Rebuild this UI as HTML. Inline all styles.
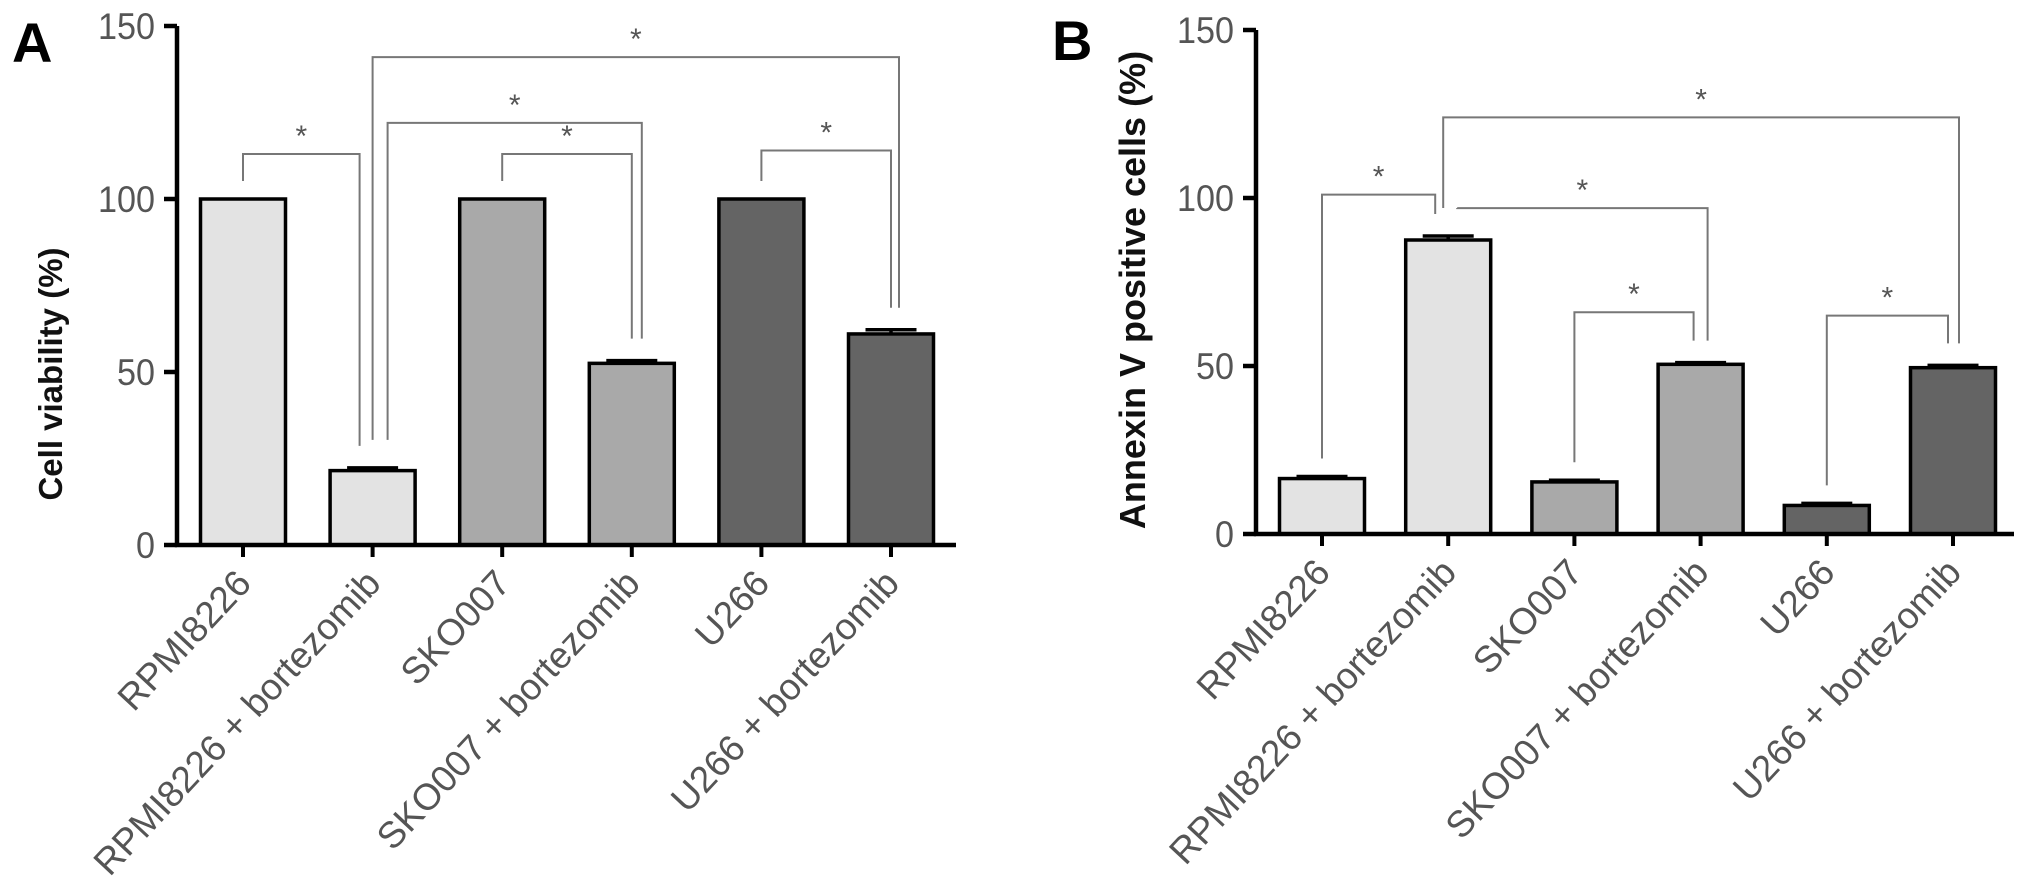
<!DOCTYPE html>
<html><head><meta charset="utf-8"><style>
html,body{margin:0;padding:0;background:#fff;}
svg{display:block;font-family:"Liberation Sans",Arial,sans-serif;}
</style></head><body>
<svg id="c" width="2031" height="892" viewBox="0 0 2031 892" xmlns="http://www.w3.org/2000/svg"></svg>
<script>
const categories = ["RPMI8226","RPMI8226 + bortezomib","SKO007","SKO007 + bortezomib","U266","U266 + bortezomib"];
const viabilityValues = [100, 21.5, 100, 52.5, 100, 61];
const viabilityErrors = [0, 0.8, 0, 0.8, 0, 1.2];
const annexinValues = [16.5, 87.5, 15.5, 50.5, 8.5, 49.5];
const annexinErrors = [0.6, 1.2, 0.5, 0.5, 0.6, 0.7];
const yTicks = [0, 50, 100, 150];
const fills = ["#e3e3e3","#e3e3e3","#a9a9a9","#a9a9a9","#646464","#646464"];
// brackets: [leftIndex, rightIndex, levelValue]
const bracketsA = [[0,1,113],[2,3,113],[1,3,122],[1,5,141],[4,5,114]];
const bracketsB = [[0,1,101],[1,5,124],[1,3,97],[2,3,66],[4,5,65]];

const NS="http://www.w3.org/2000/svg";
const svg=document.getElementById('c');
function el(t,a,p){const e=document.createElementNS(NS,t);for(const k in a)e.setAttribute(k,a[k]);(p||svg).appendChild(e);return e;}

function panel(cfg){
  const g=el('g',{});
  
  
  const y=v=>cfg.y0-(v/150)*(cfg.y0-cfg.y150);
  const x=i=>cfg.x0+i*cfg.step;
  cfg.values.forEach((v,i)=>{
    const r=el('rect',{x:x(i)-cfg.bw/2,y:y(v),width:cfg.bw,height:y(0)-y(v),fill:fills[i],stroke:'#000','stroke-width':3.5},g);
    
    
    const e=cfg.errors[i];
    if(e>0){
      const eb=el('path',{d:`M${x(i)} ${y(v)} V${y(v+e)} M${x(i)-cfg.bw*0.3} ${y(v+e)} H${x(i)+cfg.bw*0.3}`,stroke:'#000','stroke-width':3.5,fill:'none'},g);
      
      
    }
    const t=el('line',{x1:x(i),x2:x(i),y1:y(0),y2:y(0)+12,stroke:'#000','stroke-width':4},g);
    
    
    const lb=el('text',{x:0,y:0,'text-anchor':'end',fill:'#555','font-size':37,transform:`translate(${x(i)+10},${y(0)+40}) rotate(-47)`},g);
    lb.textContent=categories[i];
    
    
  });
  const ax=el('path',{d:`M${cfg.axX} ${y(150)} V${y(0)} H${cfg.axEnd}`,stroke:'#000','stroke-width':4.5,fill:'none'},g);
  
  
  yTicks.forEach(v=>{
    const t=el('line',{x1:cfg.axX-13,x2:cfg.axX,y1:y(v),y2:y(v),stroke:'#000','stroke-width':4.5},g);
    
    
    const l=el('text',{x:cfg.axX-22,y:y(v)+13,'text-anchor':'end',fill:'#555','font-size':37,'textLength':v>=100?57:(v>0?38:19),lengthAdjust:'spacingAndGlyphs'},g);
    l.textContent=v;
    
    
  });
  cfg.brackets.forEach(b=>{
    const [a,c,lev]=b;
    const off=cfg.offsets;
    const xa=x(a)+(off[a+'-'+c+'L']||0), xc=x(c)+(off[a+'-'+c+'R']||0);
    const ya=y(cfg.values[a]+cfg.errors[a])-(a===1?28:18), yc=y(cfg.values[c]+cfg.errors[c])-22;
    const yl=y(lev);
    const p=el('path',{d:`M${xa} ${ya} V${yl} H${xc} V${yc}`,stroke:'#777','stroke-width':2,fill:'none'},g);
    
    
    const s=el('text',{x:(xa+xc)/2,y:yl-8,'text-anchor':'middle',fill:'#555','font-size':30},g);
    s.textContent='*';
    
    
  });
  const tt=el('text',{x:0,y:0,'text-anchor':'middle','font-size':cfg.titleSize,fill:'#111','font-weight':'bold',transform:`translate(${cfg.titleX},${cfg.titleY}) rotate(-90)`},g);
  tt.textContent=cfg.title;
  
  
  const L=el('text',{x:cfg.letterX,y:cfg.letterY,'font-size':56,'font-weight':'bold',fill:'#000'},g);
  L.textContent=cfg.letter;
  
  
}

panel({name:'panel-a-cell-viability',x0:243,step:129.6,bw:85,y0:545,y150:26,axX:177,axEnd:956,
  values:viabilityValues,errors:viabilityErrors,brackets:bracketsA,
  offsets:{'0-1R':-13,'1-3L':15,'1-3R':10,'1-5L':0,'1-5R':8},
  title:'Cell viability (%)',titleSize:33,titleX:62,titleY:374,letter:'A',letterX:12,letterY:62});
panel({name:'panel-b-annexin-v',x0:1322,step:126.2,bw:85,y0:534,y150:30,axX:1256,axEnd:2014,
  values:annexinValues,errors:annexinErrors,brackets:bracketsB,
  offsets:{'0-1R':-13,'1-5L':-5,'1-5R':6,'1-3L':9,'1-3R':7,'2-3R':-7,'4-5R':-5},
  title:'Annexin V positive cells (%)',titleSize:36,titleX:1145,titleY:290,letter:'B',letterX:1052,letterY:60});
</script>
</body></html>
